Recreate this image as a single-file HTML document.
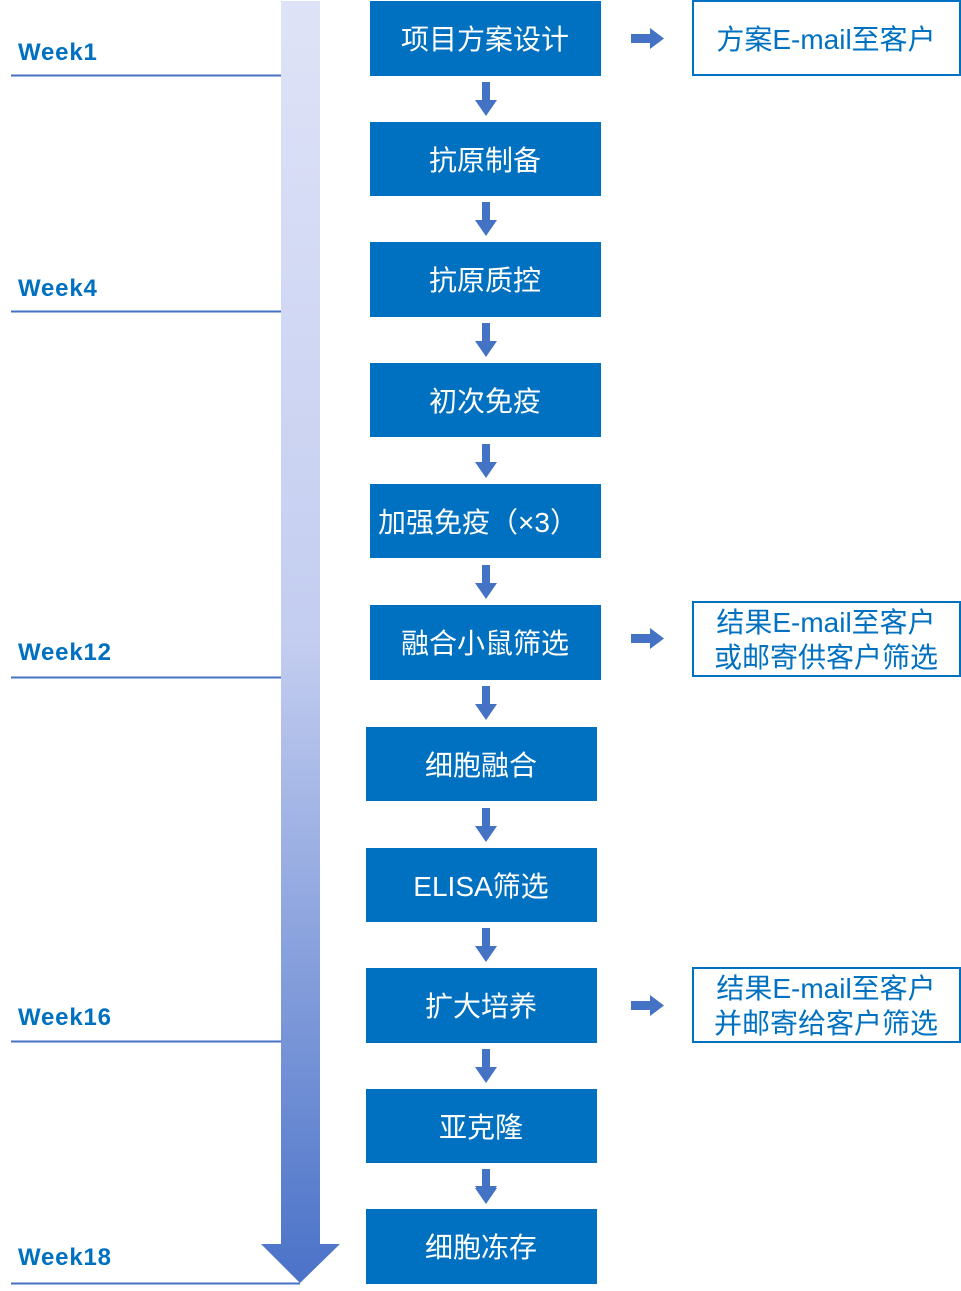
<!DOCTYPE html>
<html><head><meta charset="utf-8"><style>
html,body{margin:0;padding:0;background:#fff;}
svg{display:block;}
.w{font-family:"Liberation Sans","Noto Sans CJK SC",sans-serif;font-weight:bold;font-size:24px;letter-spacing:0.8px;fill:#0070c0;}
.b{font-family:"Liberation Sans","Noto Sans CJK SC",sans-serif;font-size:28px;fill:#fff;}
.r{font-family:"Liberation Sans","Noto Sans CJK SC",sans-serif;font-size:28px;fill:#0070c0;}
</style></head><body>
<svg width="961" height="1291" viewBox="0 0 961 1291" xmlns="http://www.w3.org/2000/svg">
<defs><linearGradient id="g" x1="0" y1="0" x2="0" y2="1">
<stop offset="0" stop-color="#dfe3f7"/><stop offset="0.5" stop-color="#c3cdf0"/><stop offset="1" stop-color="#4a72c8"/></linearGradient></defs>
<polygon points="281,1 320,1 320,1244 340,1244 300,1283 261,1244 281,1244" fill="url(#g)"/>
<g stroke="#4472c4" stroke-width="2">
<line x1="11" y1="75.5" x2="281" y2="75.5"/>
<line x1="11" y1="311.5" x2="281" y2="311.5"/>
<line x1="11" y1="677.5" x2="281" y2="677.5"/>
<line x1="11" y1="1041.5" x2="281" y2="1041.5"/>
<line x1="11" y1="1283.5" x2="300" y2="1283.5"/>
</g>
<text class="w" x="18" y="60">Week1</text>
<text class="w" x="18" y="296">Week4</text>
<text class="w" x="18" y="660">Week12</text>
<text class="w" x="18" y="1025">Week16</text>
<text class="w" x="18" y="1265">Week18</text>
<g fill="#0070c0">
<rect x="370" y="1" width="231" height="75"/>
<rect x="370" y="122" width="231" height="74"/>
<rect x="370" y="242" width="231" height="75"/>
<rect x="370" y="363" width="231" height="74"/>
<rect x="370" y="484" width="231" height="74"/>
<rect x="370" y="605" width="231" height="75"/>
<rect x="366" y="727" width="231" height="74"/>
<rect x="366" y="848" width="231" height="74"/>
<rect x="366" y="968" width="231" height="75"/>
<rect x="366" y="1089" width="231" height="74"/>
<rect x="366" y="1209" width="231" height="75"/>
</g>
<g class="b" text-anchor="middle">
<text x="485" y="49">项目方案设计</text>
<text x="485" y="170">抗原制备</text>
<text x="485" y="290">抗原质控</text>
<text x="485" y="411">初次免疫</text>
<text x="478" y="532">加强免疫（×3）</text>
<text x="485" y="653">融合小鼠筛选</text>
<text x="481" y="775">细胞融合</text>
<text x="481" y="896">ELISA筛选</text>
<text x="481" y="1016">扩大培养</text>
<text x="481" y="1137">亚克隆</text>
<text x="481" y="1257">细胞冻存</text>
</g>
<g fill="#4472c4">
<path id="a" d="M482,82 h8 v18 h7 l-11,16 l-11,-16 h7 z"/>
<use href="#a" y="120"/><use href="#a" y="241"/><use href="#a" y="362"/><use href="#a" y="483"/>
<use href="#a" y="604"/><use href="#a" y="726"/><use href="#a" y="846"/><use href="#a" y="967"/>
<use href="#a" y="1088"/>
<path d="M482,1169 h8 v17 h7 l-11,16 l-11,-16 h7 z"/>
<path id="h" d="M631,34 h19 v-6 l14,10.5 l-14,10.5 v-6 h-19 z"/>
<use href="#h" y="600"/><use href="#h" y="967"/>
</g>
<g fill="none" stroke="#0070c0" stroke-width="2">
<rect x="693" y="1" width="267" height="74"/>
<rect x="693" y="602" width="267" height="74"/>
<rect x="693" y="968" width="267" height="74"/>
</g>
<g class="r" text-anchor="middle">
<text x="826" y="49">方案E-mail至客户</text>
<text x="826" y="632">结果E-mail至客户</text>
<text x="826" y="667">或邮寄供客户筛选</text>
<text x="826" y="998">结果E-mail至客户</text>
<text x="826" y="1033">并邮寄给客户筛选</text>
</g>
</svg>
</body></html>
